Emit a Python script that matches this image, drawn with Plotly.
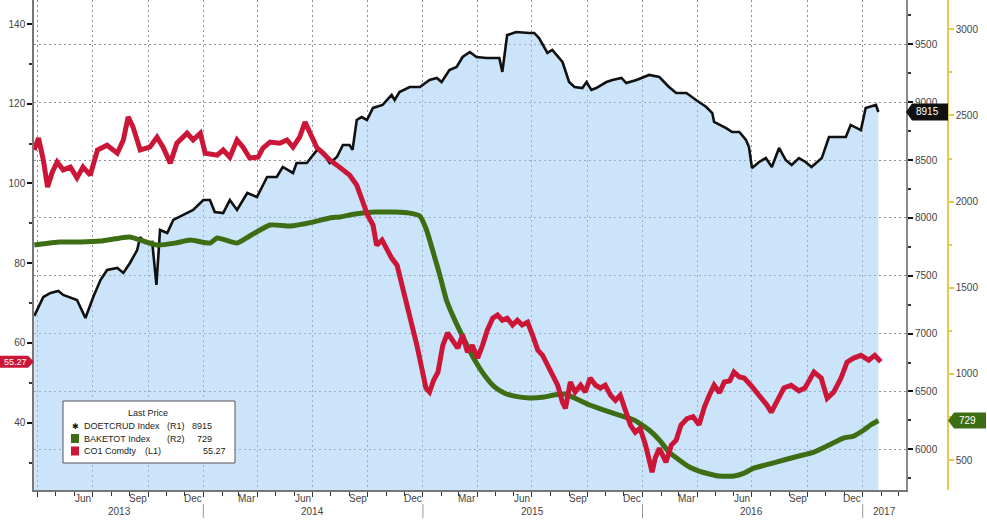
import pandas as pd
import plotly.graph_objects as go

# ---------------- data ----------------
doe_dates = [
    "2013-03-26", "2013-04-10", "2013-04-22", "2013-05-05", "2013-05-13", "2013-05-25", "2013-06-05", "2013-06-19",
    "2013-07-02", "2013-07-14", "2013-07-25", "2013-08-11", "2013-08-21", "2013-09-01", "2013-09-13", "2013-09-18",
    "2013-09-26", "2013-10-08", "2013-10-15", "2013-10-21", "2013-11-02", "2013-11-12", "2013-11-28", "2013-12-15",
    "2014-01-01", "2014-01-12", "2014-01-20", "2014-02-03", "2014-02-14", "2014-02-26", "2014-03-15", "2014-03-31",
    "2014-04-17", "2014-05-03", "2014-05-13", "2014-05-30", "2014-06-05", "2014-06-22", "2014-07-09", "2014-07-19",
    "2014-07-30", "2014-08-11", "2014-08-21", "2014-09-01", "2014-09-06", "2014-09-13", "2014-09-21", "2014-09-30",
    "2014-10-10", "2014-10-26", "2014-11-10", "2014-11-15", "2014-11-23", "2014-12-10", "2014-12-27",
    "2015-01-12", "2015-01-24", "2015-02-01", "2015-02-14", "2015-02-26", "2015-03-08", "2015-03-20", "2015-03-31",
    "2015-04-17", "2015-05-08", "2015-05-13", "2015-05-21", "2015-06-05", "2015-06-27", "2015-07-05", "2015-07-13",
    "2015-07-27", "2015-08-04", "2015-08-16", "2015-08-21", "2015-09-01", "2015-09-10", "2015-09-23", "2015-09-30",
    "2015-10-08", "2015-10-16", "2015-11-02", "2015-11-12", "2015-11-27", "2015-12-05", "2015-12-22",
    "2016-01-12", "2016-01-29", "2016-02-14", "2016-02-26", "2016-03-14", "2016-03-30", "2016-04-16", "2016-04-26",
    "2016-04-29", "2016-05-19", "2016-05-29", "2016-06-10", "2016-06-21", "2016-06-26", "2016-07-01", "2016-07-13",
    "2016-07-24", "2016-08-03", "2016-08-15", "2016-08-26", "2016-09-05", "2016-09-17", "2016-09-28", "2016-10-08",
    "2016-10-25", "2016-11-06", "2016-12-04", "2016-12-12", "2016-12-29", "2017-01-06", "2017-01-23", "2017-01-27",
]
doe_vals = [
    7152, 7316, 7351, 7368, 7334, 7308, 7290, 7135, 7316, 7463, 7550, 7567, 7524, 7610, 7722, 7835,
    7783, 7791, 7420, 7895, 7869, 7982, 8025, 8068,
    8154, 8154, 8051, 8042, 8154, 8068, 8215, 8180, 8353, 8353, 8440, 8388, 8474, 8474, 8587, 8561,
    8474, 8526, 8630, 8630, 8587, 8846, 8871, 8846, 8950, 8976, 9062, 9019, 9088, 9131, 9131,
    9191, 9209, 9174, 9278, 9304, 9390, 9433, 9390, 9382, 9382, 9261, 9580, 9606, 9598, 9598, 9554,
    9425, 9451, 9382, 9347, 9174, 9131, 9122, 9174, 9105, 9122, 9174, 9191, 9209, 9165, 9191,
    9235, 9217, 9131, 9079, 9079, 9019, 8958, 8906, 8829, 8776, 8742, 8742, 8673, 8612, 8431, 8483,
    8517, 8440, 8604, 8500, 8457, 8517, 8483, 8440, 8517, 8699, 8699, 8803, 8759, 8950, 8976, 8915,
]

bake_dates = [
    "2013-03-26", "2013-05-08", "2013-06-11", "2013-07-14", "2013-08-16", "2013-09-01", "2013-09-18", "2013-10-16",
    "2013-11-15", "2013-12-10", "2014-01-12", "2014-01-24", "2014-02-26", "2014-03-19", "2014-04-22", "2014-05-25",
    "2014-07-02", "2014-07-30", "2014-08-16", "2014-09-10", "2014-10-13", "2014-11-15", "2014-12-10", "2014-12-27",
    "2015-01-07", "2015-01-17", "2015-01-29", "2015-02-09", "2015-02-23", "2015-03-11", "2015-03-28", "2015-04-13",
    "2015-04-30", "2015-05-16", "2015-06-02", "2015-06-27", "2015-07-22", "2015-08-07", "2015-08-24", "2015-09-10",
    "2015-10-05", "2015-10-29", "2015-11-23", "2015-12-18", "2016-01-12", "2016-01-29", "2016-02-14", "2016-03-02",
    "2016-03-19", "2016-04-04", "2016-04-21", "2016-05-07", "2016-06-01", "2016-06-18", "2016-07-04", "2016-07-29",
    "2016-08-23", "2016-09-17", "2016-10-12", "2016-11-06", "2016-11-30", "2016-12-17", "2017-01-03", "2017-01-14",
    "2017-01-27",
]
bake_vals = [
    1748, 1765, 1765, 1771, 1789, 1794, 1777, 1748, 1759, 1777, 1759, 1789, 1759, 1800, 1864, 1858,
    1881, 1905, 1911, 1928, 1939, 1939, 1933, 1916, 1835, 1719, 1574, 1429, 1312, 1196, 1080, 993,
    924, 889, 871, 860, 866, 877, 883, 860, 819, 790, 761, 732, 674, 616, 546, 500,
    459, 436, 419, 407, 407, 424, 453, 476, 500, 523, 546, 587, 627, 639, 674, 703,
    729,
]

co1_dates = [
    "2013-03-26", "2013-04-02", "2013-04-10", "2013-04-17", "2013-04-25", "2013-05-03", "2013-05-13", "2013-05-25",
    "2013-06-05", "2013-06-15", "2013-06-27", "2013-07-09", "2013-07-25", "2013-08-11", "2013-08-21", "2013-08-29",
    "2013-09-06", "2013-09-18", "2013-10-04", "2013-10-16", "2013-10-26", "2013-11-07", "2013-11-18", "2013-12-05",
    "2013-12-15", "2013-12-27", "2014-01-04", "2014-01-24", "2014-02-03", "2014-02-14", "2014-02-26", "2014-03-08",
    "2014-03-19", "2014-04-02", "2014-04-10", "2014-04-22", "2014-05-08", "2014-05-20", "2014-05-30", "2014-06-10",
    "2014-06-19", "2014-06-27", "2014-07-09", "2014-07-19", "2014-07-30", "2014-08-11", "2014-08-21", "2014-09-01",
    "2014-09-13", "2014-09-23", "2014-10-01", "2014-10-10", "2014-10-16", "2014-10-25", "2014-11-02", "2014-11-10",
    "2014-11-19", "2014-11-27", "2014-12-05", "2014-12-13", "2014-12-22", "2014-12-30", "2015-01-06", "2015-01-12",
    "2015-01-19", "2015-01-26", "2015-02-03", "2015-02-11", "2015-02-20", "2015-02-28", "2015-03-08", "2015-03-16",
    "2015-03-24", "2015-04-02", "2015-04-10", "2015-04-18", "2015-04-27", "2015-05-05", "2015-05-13", "2015-05-21",
    "2015-05-30", "2015-06-07", "2015-06-15", "2015-06-24", "2015-07-02", "2015-07-11", "2015-07-19", "2015-07-27",
    "2015-08-05", "2015-08-13", "2015-08-21", "2015-08-26", "2015-09-03", "2015-09-11", "2015-09-20", "2015-09-28",
    "2015-10-06", "2015-10-15", "2015-10-23", "2015-10-31", "2015-11-09", "2015-11-17", "2015-11-25", "2015-12-03",
    "2015-12-12", "2015-12-20", "2015-12-28", "2016-01-06", "2016-01-12", "2016-01-17", "2016-01-22", "2016-01-29",
    "2016-02-09", "2016-02-18", "2016-02-26", "2016-03-05", "2016-03-15", "2016-03-25", "2016-04-04", "2016-04-13",
    "2016-04-21", "2016-04-29", "2016-05-08", "2016-05-16", "2016-05-25", "2016-06-01", "2016-06-10", "2016-06-18",
    "2016-06-29", "2016-07-13", "2016-07-26", "2016-08-02", "2016-08-12", "2016-08-23", "2016-09-04", "2016-09-17",
    "2016-09-27", "2016-10-12", "2016-10-24", "2016-11-03", "2016-11-14", "2016-11-26", "2016-12-06", "2016-12-17",
    "2016-12-29", "2017-01-11", "2017-01-21", "2017-01-31",
]
co1_vals = [
    108.4, 111.4, 105.9, 99.1, 102.9, 105.4, 103.4, 104.1, 101.4, 104.1, 102.1, 108.4, 109.6, 107.6, 110.9, 116.7,
    114.2, 108.4, 109.1, 111.6, 109.1, 105.1, 110.1, 112.6, 110.9, 112.6, 107.6, 107.1, 108.4, 106.6, 110.9, 109.1,
    106.4, 106.6, 108.9, 110.4, 110.1, 110.9, 109.1, 111.6, 115.4, 112.6, 108.9, 107.6, 105.9, 104.6, 103.4, 102.1,
    99.6, 95.8, 92.1, 89.6, 84.5, 85.8, 83.3, 81.3, 79.5, 74.5, 70.7, 65.7, 59.4, 53.7, 48.7, 47.7,
    50.7, 52.7, 59.4, 62.5, 60.7, 58.7, 62.0, 57.7, 59.4, 56.2, 59.4, 63.2, 66.2, 67.0, 65.7, 66.2,
    64.5, 65.7, 64.5, 65.2, 62.0, 58.2, 56.9, 54.4, 51.9, 49.4, 45.1, 43.6, 50.2, 47.7, 49.4, 47.7,
    51.2, 49.4, 48.7, 49.4, 46.9, 45.6, 46.9, 43.1, 39.4, 37.6, 38.6, 34.4, 30.6, 27.6, 31.1, 33.6,
    30.1, 34.4, 35.6, 39.4, 41.0, 41.5, 39.5, 44.0, 46.9, 49.4, 47.5, 50.2, 50.5, 52.7, 51.5, 51.2,
    49.4, 46.9, 44.4, 42.6, 45.6, 48.7, 49.4, 48.0, 48.7, 52.7, 51.2, 46.1, 47.7, 51.2, 55.2, 56.2,
    56.9, 55.7, 56.9, 55.27,
]

left_ticks = [40, 60, 80, 100, 120, 140]
r1_ticks = [6000, 6500, 7000, 7500, 8000, 8500, 9000, 9500]
r2_ticks = [500, 1000, 1500, 2000, 2500, 3000]
month_labels = ["Jun", "Sep", "Dec", "Mar", "Jun", "Sep", "Dec", "Mar", "Jun", "Sep", "Dec", "Mar", "Jun", "Sep", "Dec"]
month_label_dates = ["2013-06-15", "2013-09-15", "2013-12-15", "2014-03-15", "2014-06-15", "2014-09-15",
                     "2014-12-15", "2015-03-15", "2015-06-15", "2015-09-15", "2015-12-15", "2016-03-15",
                     "2016-06-15", "2016-09-15", "2016-12-15"]
year_labels = ["2013", "2014", "2015", "2016", "2017"]
year_label_dates = ["2013-08-14", "2014-07-02", "2015-07-02", "2016-07-01", "2017-02-06"]
year_bounds = ["2014-01-01", "2015-01-01", "2016-01-01", "2017-01-01"]

# ---------------- styling / geometry ----------------
W, H = 987, 521
L, R, T, B = 34, 0, 0, 31
PW, PH = W - L - R, H - T - B


def px(x):
    return (x - L) / PW


def py(y):
    return (H - B - y) / PH


RED = "#cc1638"
GREEN = "#3d6e14"
BLACK = "#111111"
YELLOW = "#e6c84a"
FILL = "rgba(160,205,245,0.55)"
GRID = "#8f8f8f"
FONT = "Liberation Sans"
TXT = "#444444"

fig = go.Figure()
fig.add_trace(go.Scatter(x=doe_dates, y=doe_vals, yaxis="y", mode="lines", fill="tozeroy",
                         fillcolor=FILL, line=dict(color=BLACK, width=2.6), name="DOETCRUD Index"))
fig.add_trace(go.Scatter(x=bake_dates, y=bake_vals, yaxis="y2", mode="lines",
                         line=dict(color=GREEN, width=5, shape="spline", smoothing=0.5), name="BAKETOT Index"))
fig.add_trace(go.Scatter(x=co1_dates, y=co1_vals, yaxis="y3", mode="lines",
                         line=dict(color=RED, width=5), name="CO1 Comdty"))

quarter_starts = [d.strftime("%Y-%m-%d") for d in pd.date_range("2013-04-01", "2017-01-01", freq="QS")]
month_starts = [d.strftime("%Y-%m-%d") for d in pd.date_range("2013-04-01", "2017-03-01", freq="MS")]

tickfont = dict(family=FONT, size=10, color=TXT)

fig.update_layout(
    width=W, height=H,
    margin=dict(l=L, r=R, t=T, b=B, pad=0),
    paper_bgcolor="white", plot_bgcolor="white",
    showlegend=False,
    xaxis=dict(domain=[0, px(906)], type="date", range=["2013-03-25 12:00", "2017-03-14"],
               tickmode="array", tickvals=quarter_starts, showticklabels=False,
               ticks="outside", ticklen=5, tickcolor="#333", tickwidth=1,
               showgrid=True, gridcolor=GRID, griddash="2px,3px", gridwidth=1,
               showline=True, linecolor="#777", linewidth=1.5, zeroline=False, automargin=False,
               minor=dict(tickmode="array", tickvals=month_starts, ticks="outside", ticklen=4,
                          tickcolor="#333", showgrid=False)),
    yaxis=dict(side="right", anchor="x", range=[5648.3, 9882.8], tickmode="array", tickvals=r1_ticks,
               ticks="outside", ticklen=5, tickwidth=2, tickcolor=BLACK, tickfont=tickfont,
               showgrid=True, gridcolor=GRID, griddash="2px,3px", gridwidth=1,
               showline=True, linecolor="#888", linewidth=2, zeroline=False, automargin=False,
               minor=dict(tickmode="array", tickvals=list(range(5750, 9876, 250)), ticks="outside",
                          ticklen=3, tickcolor="#333", showgrid=False)),
    yaxis2=dict(overlaying="y", side="right", anchor="free", position=px(948), range=[325.9, 3170],
                tickmode="array", tickvals=r2_ticks, ticks="outside", ticklen=5, tickwidth=1.5,
                tickcolor=YELLOW, tickfont=tickfont, showgrid=False, showline=True, linecolor=YELLOW,
                linewidth=1.5, zeroline=False, automargin=False,
                minor=dict(tickmode="array", tickvals=list(range(750, 3001, 500)), ticks="outside",
                           ticklen=3, tickcolor=YELLOW, showgrid=False)),
    yaxis3=dict(overlaying="y", side="left", anchor="x", range=[23.12, 146.02], tickmode="array",
                tickvals=left_ticks, ticks="outside", ticklen=5, tickwidth=2, tickcolor=BLACK,
                tickfont=tickfont, showgrid=False, showline=True, linecolor="#777", linewidth=1.5,
                zeroline=False, automargin=False,
                minor=dict(tickmode="array", tickvals=[30, 50, 70, 90, 110, 130], ticks="outside",
                           ticklen=3, tickcolor="#333", showgrid=False)),
)

annotations = []
shapes = []

# month / year labels
for d, t in zip(month_label_dates, month_labels):
    annotations.append(dict(x=d, y=py(498), xref="x", yref="paper", text=t, showarrow=False,
                            xanchor="center", yanchor="middle", font=dict(family=FONT, size=10, color=TXT)))
for d, t in zip(year_label_dates, year_labels):
    annotations.append(dict(x=d, y=py(511), xref="x", yref="paper", text=t, showarrow=False,
                            xanchor="center", yanchor="middle", font=dict(family=FONT, size=10, color=TXT)))
for d in year_bounds:
    shapes.append(dict(type="line", xref="x", yref="paper", x0=d, x1=d, y0=py(504), y1=py(518),
                       line=dict(color="#999", width=1)))

# last-value badges
last_co1, last_doe, last_bake = co1_vals[-1], doe_vals[-1], bake_vals[-1]
shapes.append(dict(type="path", xref="paper", yref="y3", xsizemode="pixel", ysizemode="pixel",
                   xanchor=0, yanchor=last_co1, path="M-34,-6 L-6,-6 L0,0 L-6,6 L-34,6 Z",
                   fillcolor=RED, line=dict(width=0), layer="above"))
annotations.append(dict(x=px(15), y=last_co1, xref="paper", yref="y3", text=f"{last_co1:.2f}",
                        showarrow=False, xanchor="center", yanchor="middle",
                        font=dict(family=FONT, size=9, color="white")))
shapes.append(dict(type="path", xref="paper", yref="y", xsizemode="pixel", ysizemode="pixel",
                   xanchor=px(906), yanchor=last_doe, path="M0,0 L6,-8.5 L42,-8.5 L42,8.5 L6,8.5 Z",
                   fillcolor=BLACK, line=dict(width=0), layer="above"))
annotations.append(dict(x=px(927), y=last_doe, xref="paper", yref="y", text=f"{last_doe:.0f}",
                        showarrow=False, xanchor="center", yanchor="middle",
                        font=dict(family=FONT, size=10, color="white")))
shapes.append(dict(type="path", xref="paper", yref="y2", xsizemode="pixel", ysizemode="pixel",
                   xanchor=px(948), yanchor=last_bake, path="M0,0 L6,-8 L38,-8 L38,8 L6,8 Z",
                   fillcolor=GREEN, line=dict(width=0), layer="above"))
annotations.append(dict(x=px(967), y=last_bake, xref="paper", yref="y2", text=f"{last_bake:.0f}",
                        showarrow=False, xanchor="center", yanchor="middle",
                        font=dict(family=FONT, size=10, color="white")))

# legend box
shapes.append(dict(type="rect", xref="paper", yref="paper", x0=px(63), x1=px(235), y0=py(463), y1=py(401),
                   fillcolor="white", line=dict(color="#555", width=1), layer="above"))
lf = dict(family=FONT, size=9, color="#222")
annotations.append(dict(x=px(148), y=py(413), xref="paper", yref="paper", text="Last Price", showarrow=False,
                        xanchor="center", yanchor="middle", font=lf))
rows = [
    ("DOETCRUD Index", "(R1)", f"{last_doe:.0f}", py(426), 165),
    ("BAKETOT Index", "(R2)", f"{last_bake:.0f}", py(438.5), 165),
    ("CO1 Comdty", "(L1)", f"{last_co1:.2f}", py(451), 143),
]
for i, (name, ax, val, yy, axx) in enumerate(rows):
    annotations.append(dict(x=px(82), y=yy, xref="paper", yref="paper", text=name, showarrow=False,
                            xanchor="left", yanchor="middle", font=lf))
    annotations.append(dict(x=px(axx), y=yy, xref="paper", yref="paper", text=ax, showarrow=False,
                            xanchor="left", yanchor="middle", font=lf))
    annotations.append(dict(x=px(214 if i < 2 else 228), y=yy, xref="paper", yref="paper", text=val,
                            showarrow=False, xanchor="right", yanchor="middle", font=lf))
annotations.append(dict(x=px(75), y=py(426), xref="paper", yref="paper", text="✱", showarrow=False,
                        xanchor="center", yanchor="middle", font=dict(family="DejaVu Sans", size=8, color="#111")))
shapes.append(dict(type="rect", xref="paper", yref="paper", x0=px(71), x1=px(79), y0=py(443), y1=py(434),
                   fillcolor=GREEN, line=dict(width=0), layer="above"))
shapes.append(dict(type="rect", xref="paper", yref="paper", x0=px(71), x1=px(79), y0=py(455.5), y1=py(446.5),
                   fillcolor=RED, line=dict(width=0), layer="above"))

fig.update_layout(annotations=annotations, shapes=shapes)
fig.write_html("out.html")
